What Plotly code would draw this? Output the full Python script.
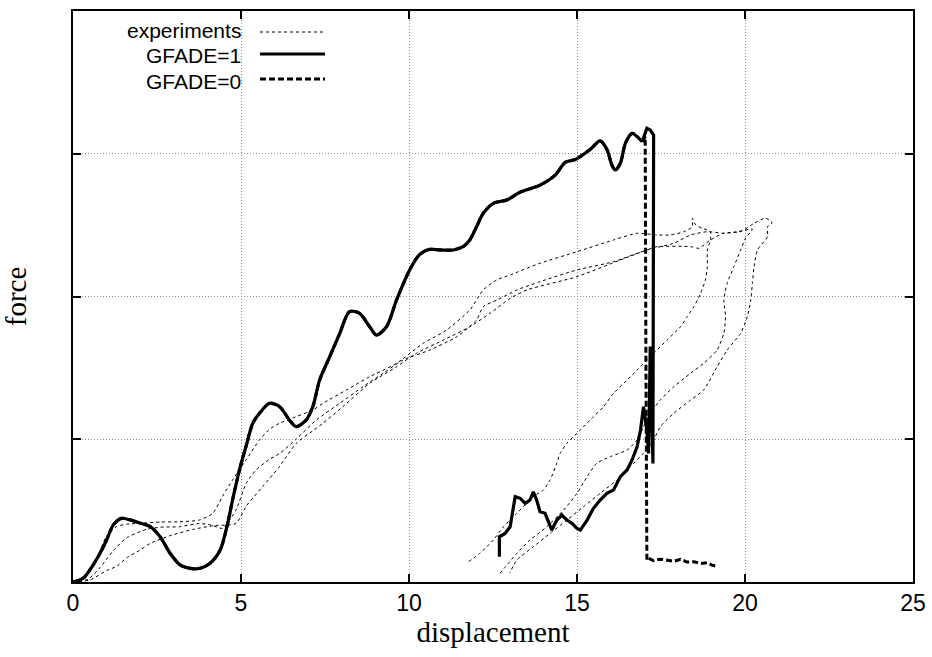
import plotly.graph_objects as go

# ---------------- data ----------------
# GFADE=1 simulation: loading path up to failure
gf1_load_x = [0, 0.3, 0.5, 0.8, 1.0, 1.2, 1.44, 1.7, 2.0, 2.3, 2.59, 2.89, 3.19, 3.48, 3.78,
              4.08, 4.38, 4.58, 4.77, 4.97, 5.15, 5.35, 5.55, 5.85, 6.15, 6.44, 6.64, 6.94,
              7.14, 7.34, 7.64, 7.94, 8.23, 8.53, 8.83, 9.03, 9.33, 9.63, 10.02, 10.3, 10.6,
              10.92, 11.32, 11.61, 11.81, 12.01, 12.21, 12.51, 12.91, 13.3, 13.9, 14.35, 14.65,
              14.95, 15.39, 15.69, 15.89, 16.04, 16.14, 16.29, 16.44, 16.64, 16.79, 16.94]
gf1_load_y = [0, 0.026, 0.084, 0.2, 0.294, 0.4, 0.446, 0.435, 0.412, 0.388, 0.318, 0.201, 0.119,
              0.096, 0.096, 0.131, 0.224, 0.387, 0.598, 0.80, 0.95, 1.112, 1.182, 1.252, 1.228,
              1.135, 1.088, 1.135, 1.23, 1.415, 1.578, 1.742, 1.894, 1.882, 1.788, 1.73, 1.788,
              1.976, 2.186, 2.29, 2.33, 2.326, 2.326, 2.349, 2.396, 2.489, 2.583, 2.653, 2.676,
              2.73, 2.78, 2.85, 2.94, 2.96, 3.03, 3.09, 3.03, 2.92, 2.886, 2.933, 3.073, 3.143,
              3.12, 3.084]
# GFADE=1 after the peak: drop and the noisy lower branch
gf1_tail_x = [16.94, 17.08, 17.18, 17.28, 17.26, 17.18, 17.13, 17.08, 16.98, 16.89, 16.79, 16.64,
              16.49, 16.29, 16.09, 15.89, 15.69, 15.49, 15.3, 15.1, 15.0, 14.85, 14.7, 14.55, 14.4,
              14.25, 14.05, 13.9, 13.8, 13.7, 13.6, 13.46, 13.31, 13.16, 13.11, 13.01, 12.86,
              12.69, 12.69]
gf1_tail_y = [3.084, 3.178, 3.166, 3.131, 0.83, 1.65, 0.901, 1.065, 1.228, 1.065, 0.948, 0.855,
              0.785, 0.738, 0.645, 0.621, 0.574, 0.516, 0.434, 0.364, 0.376, 0.411, 0.434, 0.469,
              0.434, 0.364, 0.481, 0.492, 0.574, 0.632, 0.574, 0.551, 0.586, 0.598, 0.528, 0.387,
              0.34, 0.317, 0.177]
# GFADE=0 after the shared loading path: drop and residual plateau
gf0_tail_x = [16.94, 17.03, 17.05, 17.08, 17.13, 17.28, 17.48, 17.68, 17.88, 18.08, 18.28, 18.48,
              18.68, 18.88, 19.0, 19.12]
gf0_tail_y = [3.084, 3.12, 1.6, 0.154, 0.166, 0.15, 0.16, 0.154, 0.145, 0.159, 0.14, 0.142, 0.13,
              0.135, 0.12, 0.112]

# experiments (three tests: loading then unloading branch)
expA_x = [0, 0.25, 0.4, 0.7, 0.99, 1.29, 1.6, 1.99, 2.6, 3.16, 3.76, 4.16, 4.45, 4.75, 5.15, 5.55,
          5.85, 6.15, 6.64, 7.14, 7.44, 8.14, 8.83, 9.63, 10.42, 11.12, 11.81, 12.21, 12.61, 13.01,
          13.9, 15.0, 16.09, 16.79, 17.38, 17.78, 18.18, 18.43, 18.43, 18.53, 18.73, 18.97, 18.97,
          18.88, 18.88, 18.82, 18.68, 18.48, 18.28, 18.08, 17.68, 17.28, 16.79, 16.49, 16.09,
          15.79, 15.49, 15.1, 14.7, 14.5, 14.4, 14.2, 14.0, 13.7, 13.21, 12.81, 12.51, 12.11, 11.72]
expA_y = [0, 0.01, 0.04, 0.16, 0.318, 0.388, 0.405, 0.412, 0.42, 0.422, 0.434, 0.481, 0.6, 0.715,
          0.855, 0.995, 1.07, 1.112, 1.158, 1.205, 1.252, 1.345, 1.438, 1.532, 1.672, 1.765, 1.906,
          2.046, 2.116, 2.151, 2.233, 2.314, 2.396, 2.443, 2.431, 2.431, 2.454, 2.489, 2.548,
          2.501, 2.478, 2.454, 2.396, 2.326, 2.209, 2.116, 2.022, 1.929, 1.859, 1.788, 1.695,
          1.602, 1.485, 1.415, 1.322, 1.228, 1.158, 1.065, 0.972, 0.902, 0.832, 0.715, 0.644,
          0.598, 0.481, 0.387, 0.294, 0.201, 0.133]

expB_x = [0, 0.45, 0.8, 1.2, 1.6, 2.2, 2.7, 3.16, 3.76, 4.1, 4.45, 4.85, 5.15, 5.45, 5.85, 6.15,
          6.64, 7.24, 7.94, 8.63, 9.23, 9.82, 10.62, 11.42, 12.01, 12.21, 12.61, 13.01, 13.21,
          13.9, 15.0, 16.09, 17.08, 17.88, 18.38, 18.88, 19.37, 19.77, 20.22, 20.02, 19.87, 19.67,
          19.47, 19.37, 19.42, 19.37, 19.17, 18.77, 18.38, 17.88, 17.48, 17.18, 16.98, 16.79,
          16.49, 15.99, 15.59, 15.3, 15.0, 14.6, 14.1, 13.6, 13.21, 12.71]
expB_y = [0, 0.02, 0.1, 0.22, 0.31, 0.37, 0.385, 0.387, 0.41, 0.4, 0.376, 0.504, 0.69, 0.785,
          0.86, 0.9, 1.0, 1.135, 1.252, 1.368, 1.462, 1.555, 1.625, 1.718, 1.835, 1.929, 1.975,
          2.022, 2.046, 2.104, 2.186, 2.244, 2.326, 2.373, 2.431, 2.454, 2.443, 2.454, 2.471,
          2.41, 2.326, 2.209, 2.092, 1.975, 1.859, 1.742, 1.625, 1.532, 1.462, 1.368, 1.275,
          1.182, 1.088, 0.995, 0.925, 0.878, 0.832, 0.738, 0.621, 0.504, 0.387, 0.294, 0.201,
          0.061]

expC_x = [0, 0.5, 1.0, 1.3, 1.6, 2.0, 2.3, 2.96, 3.6, 4.2, 4.85, 5.15, 5.65, 6.15, 6.64, 7.14,
          7.44, 8.03, 8.83, 9.63, 10.22, 11.02, 11.81, 12.41, 13.01, 13.51, 15.0, 16.29, 17.08,
          17.38, 18.38, 18.63, 18.97, 19.37, 19.87, 20.27, 20.61, 20.81, 20.67, 20.67, 20.37,
          20.27, 20.22, 20.17, 20.07, 19.87, 19.47, 19.17, 18.77, 18.38, 17.88, 17.48, 17.28,
          16.98, 16.59, 16.19, 15.69, 15.19, 14.7, 14.2, 13.7, 13.21, 13.0]
expC_y = [0, 0.014, 0.08, 0.11, 0.17, 0.224, 0.271, 0.33, 0.37, 0.395, 0.41, 0.53, 0.67, 0.81,
          0.97, 1.06, 1.112, 1.228, 1.392, 1.508, 1.602, 1.695, 1.788, 1.882, 1.987, 2.046, 2.139,
          2.256, 2.326, 2.349, 2.349, 2.338, 2.396, 2.443, 2.454, 2.513, 2.548, 2.517, 2.489,
          2.419, 2.326, 2.209, 2.092, 1.975, 1.859, 1.742, 1.625, 1.508, 1.345, 1.275, 1.182,
          1.088, 0.995, 0.902, 0.808, 0.715, 0.621, 0.527, 0.434, 0.341, 0.247, 0.154, 0.063]

x_ticks = [0, 5, 10, 15, 20, 25]
y_ticks = [0, 1, 2, 3, 4]
legend_labels = ["experiments", "GFADE=1", "GFADE=0"]

# ---------------- figure ----------------
fig = go.Figure()
exp_line = dict(color="black", width=1, dash="3px,3px", shape="spline", smoothing=0.6)
for ex, ey in [(expA_x, expA_y), (expB_x, expB_y), (expC_x, expC_y)]:
    fig.add_trace(go.Scatter(x=ex, y=ey, mode="lines", line=exp_line,
                             name="experiments", showlegend=False, hoverinfo="skip"))

dash0 = "6px,3px"
# GFADE=0: shared loading path (smooth) + its own drop
fig.add_trace(go.Scatter(x=gf1_load_x, y=gf1_load_y, mode="lines",
                         line=dict(color="black", width=3, dash=dash0, shape="spline",
                                   smoothing=0.8),
                         name="GFADE=0", showlegend=False))
fig.add_trace(go.Scatter(x=gf0_tail_x, y=gf0_tail_y, mode="lines",
                         line=dict(color="black", width=3, dash=dash0),
                         name="GFADE=0", showlegend=False))
# GFADE=1
fig.add_trace(go.Scatter(x=gf1_load_x, y=gf1_load_y, mode="lines",
                         line=dict(color="black", width=3.2, shape="spline", smoothing=0.8),
                         name="GFADE=1", showlegend=False))
fig.add_trace(go.Scatter(x=gf1_tail_x, y=gf1_tail_y, mode="lines",
                         line=dict(color="black", width=3.2),
                         name="GFADE=1", showlegend=False))

L, R, T, B = 73, 19, 11, 75
W, H = 932, 657
pw, ph = W - L - R, H - T - B


def px2paper(px, py):
    return (px - L) / pw, (H - B - py) / ph


# legend box (white, hides grid) and entries
x0, y0 = px2paper(80, 93)
x1, y1 = px2paper(340, 13)
fig.add_shape(type="rect", xref="paper", yref="paper", x0=x0, y0=y0, x1=x1, y1=y1,
              fillcolor="white", line=dict(width=0), layer="between")
rows = [(30.5, 32, dict(color="black", width=1, dash="3px,3px")),
        (56, 54, dict(color="black", width=3.2)),
        (81.5, 79, dict(color="black", width=3, dash=dash0))]
for label, (ty_px, ly_px, ls) in zip(legend_labels, rows):
    tx, ty = px2paper(243, ty_px)
    fig.add_annotation(x=tx, y=ty, xref="paper", yref="paper", text=label, showarrow=False,
                       xanchor="right", yanchor="middle",
                       font=dict(family="Liberation Sans", size=21, color="black"))
    lx0, ly = px2paper(260, ly_px)
    lx1, _ = px2paper(325, ly_px)
    fig.add_shape(type="line", xref="paper", yref="paper", x0=lx0, x1=lx1, y0=ly, y1=ly,
                  line=ls, layer="above")

axis_common = dict(showline=True, linecolor="black", linewidth=1.5, mirror="ticks",
                   ticks="inside", ticklen=8, tickcolor="black", tickwidth=1.5,
                   showgrid=True, gridcolor="#8c8c8c", gridwidth=1, griddash="1px,2px",
                   zeroline=False)
fig.update_xaxes(range=[0, 25], tickvals=x_ticks, ticktext=[str(v) for v in x_ticks],
                 tickfont=dict(family="Liberation Sans", size=23, color="black"),
                 title=dict(text="displacement", standoff=6,
                            font=dict(family="Liberation Serif", size=29, color="black")),
                 **axis_common)
fig.update_yaxes(range=[0, 4], tickvals=y_ticks, showticklabels=False,
                 title=dict(text="force", standoff=36,
                            font=dict(family="Liberation Serif", size=29, color="black")),
                 **axis_common)
fig.update_layout(width=W, height=H, margin=dict(l=L, r=R, t=T, b=B, autoexpand=False),
                  plot_bgcolor="white", paper_bgcolor="white", showlegend=False)
fig.write_html("out.html")
